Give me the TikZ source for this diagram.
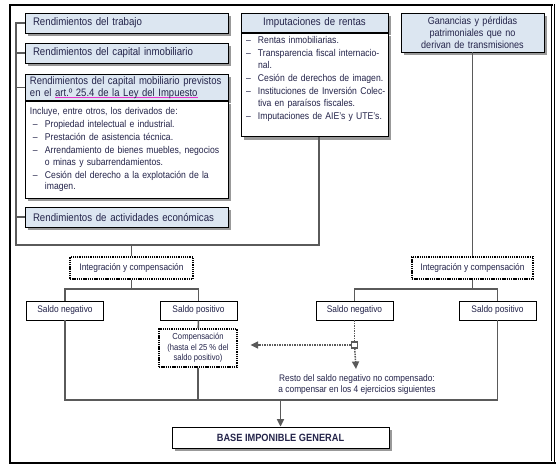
\documentclass[tikz,border=0pt]{standalone}
\usepackage{fontspec}
\setmainfont[FakeStretch=0.88]{Liberation Sans}
\usetikzlibrary{arrows.meta,positioning,shadows}
\definecolor{tinta}{HTML}{24244A}
\definecolor{cielo}{HTML}{DCE6F1}
\definecolor{linea}{HTML}{5A5A5A}
\definecolor{enlace}{HTML}{E633CC}
% lineas de las listas (sin corte automatico)
\newcommand{\guion}[2][0pt]{\mbox{\hspace*{#1}\makebox[12pt][l]{--}#2}}
\newcommand{\sigue}[2][0pt]{\mbox{\hspace*{\dimexpr12pt+#1\relax}#2}}
\newlength{\largo}
\newcommand{\subrayado}[1]{\settowidth{\largo}{#1}\mbox{\rlap{\textcolor{enlace}{\rule[-2.2pt]{\largo}{1pt}}}#1}}
\tikzstyle{sombra}=[drop shadow={shadow xshift=3pt,shadow yshift=-3pt,fill=black!50,opacity=.8}]
\tikzstyle{caja}=[draw=black,line width=0.8pt,text=tinta,inner xsep=5pt,inner ysep=2pt,font=\fontsize{9.8}{11.7}\selectfont]
\tikzstyle{rotulo}=[caja,fill=cielo,sombra,font=\fontsize{11}{12}\selectfont]
\tikzstyle{ancho}=[inner xsep=8pt,text width=187pt,align=left,minimum height=20pt]
\tikzstyle{saldo}=[caja,fill=white,minimum width=77pt,minimum height=19pt,font=\fontsize{9.5}{11}\selectfont]
\tikzstyle{puntos}=[draw=black,line width=1.2pt,dash pattern=on 1.3pt off 0.9pt,text=tinta,align=center,inner sep=2pt]
\tikzstyle{conector}=[draw=linea,line width=1.6pt]
\tikzstyle{punteado}=[draw=linea,line width=1.5pt,dash pattern=on 1.5pt off 1pt]

\begin{document}
\begin{tikzpicture}[x=1pt,y=-1pt,>={Triangle[width=7pt,length=7.5pt]}]
  \useasboundingbox (0,0) rectangle (558,475);
  % marco
  \draw[line width=2.4pt] (553,5) -- (10,5) -- (10,463) -- (555.5,463);
  \draw[line width=0.9pt] (551,5) -- (551,461) (554.3,4) -- (554.3,463);

  % rendimientos
  \node[rotulo,ancho] (trabajo) at (126.5,23) {Rendimientos del trabajo};
  \node[rotulo,ancho] (inmob) at (126.5,53) {Rendimientos del capital inmobiliario};
  \node[rotulo,text width=193pt,align=left,minimum height=26pt,anchor=north,font=\fontsize{10.8}{12}\selectfont] (mobhead) at (126.5,74)
    {\mbox{Rendimientos del capital mobiliario previstos}\\\mbox{en el \subrayado{art.º 25.4 de la Ley del Impuesto}}};
  \node[caja,fill=white,sombra,text width=193pt,align=left,minimum height=97pt,below=0pt of mobhead] (mobbody)
    {Incluye, entre otros, los derivados de:\\[1.2pt]
     \guion[3pt]{Propiedad intelectual e industrial.}\\[1.2pt]
     \guion[3pt]{Prestación de asistencia técnica.}\\[1.2pt]
     \guion[3pt]{Arrendamiento de bienes muebles, negocios}\\
     \sigue[3pt]{o minas y subarrendamientos.}\\[1.2pt]
     \guion[3pt]{Cesión del derecho a la explotación de la}\\
     \sigue[3pt]{imagen.}};
  \node[rotulo,ancho] (activ) at (126.5,217) {Rendimientos de actividades económicas};

  % imputaciones y ganancias
  \node[rotulo,text width=137pt,align=center,minimum height=19pt,anchor=north] (imputhead) at (314.5,13)
    {Imputaciones de rentas};
  \node[caja,fill=white,sombra,text width=137pt,align=left,inner ysep=3pt,below=0pt of imputhead] (imputbody)
    {\guion{Rentas inmobiliarias.}\\[1.5pt]
     \guion{Transparencia fiscal internacio-}\\
     \sigue{nal.}\\[1.5pt]
     \guion{Cesión de derechos de imagen.}\\[1.5pt]
     \guion{Instituciones de Inversión Colec-}\\
     \sigue{tiva en paraísos fiscales.}\\[1.5pt]
     \guion{Imputaciones de AIE's y UTE's.}\par\vspace{12pt}};
  \node[rotulo,text width=133pt,align=center,minimum height=39pt,font=\fontsize{10.3}{12}\selectfont] (ganan) at (472.5,32.5)
    {Ganancias y pérdidas\\patrimoniales que no\\derivan de transmisiones};

  \coordinate (esquina) at (16,245);
  \coordinate (bajada) at (319,245);
  \draw[conector] (trabajo.west) -- (trabajo.west -| esquina) -- (esquina) -- (bajada) -- (bajada |- imputbody.south);
  \draw[conector] (inmob.west) -- (inmob.west -| esquina);
  \draw[conector] (mobhead.west) -- (mobhead.west -| esquina);
  \draw[conector] (activ.west) -- (activ.west -| esquina);

  % integracion
  \node[puntos,minimum width=123pt,minimum height=22pt,font=\fontsize{9.5}{11}\selectfont] (integA) at (131.5,268) {Integración y compensación};
  \node[puntos,minimum width=121pt,minimum height=22pt,font=\fontsize{9.5}{11}\selectfont] (integB) at (472.5,268) {Integración y compensación};
  \draw[conector] (integA) -- (integA |- esquina);
  \draw[conector] (ganan) -- (integB);

  \node[saldo] (negA) at (65,310.5) {Saldo negativo};
  \node[saldo] (posA) at (198.5,310.5) {Saldo positivo};
  \node[saldo] (negB) at (354.5,310.5) {Saldo negativo};
  \node[saldo] (posB) at (497.5,310.5) {Saldo positivo};
  \coordinate (ramaA) at (131.5,289);
  \coordinate (ramaB) at (472.5,289);
  \draw[conector] (integA) -- (ramaA) (negA) |- (ramaA) -| (posA);
  \draw[conector] (integB) -- (ramaB) (negB) |- (ramaB) -| (posB);

  \node[puntos,minimum width=78pt,minimum height=38pt,font=\fontsize{8.7}{10.5}\selectfont] (comp) at (198,348)
    {Compensación\\(hasta el 25 \% del\\saldo positivo)};
  \draw[conector] (posA) -- (comp);

  % resto
  \node[draw=linea,fill=white,line width=1.3pt,minimum size=6pt,inner sep=0pt] (nudo) at (354.5,345) {};
  \node[text=tinta,align=center,anchor=north,font=\fontsize{9.5}{11.5}\selectfont] (resto) at (357,371)
    {Resto del saldo negativo no compensado:\\a compensar en los 4 ejercicios siguientes};
  \draw[punteado] (negB) -- (nudo);
  \draw[punteado,->,shorten >=13pt] (nudo.west) -- (nudo.west -| comp.east);
  \draw[punteado,->,shorten >=2pt] (nudo) -- (resto);

  % base
  \node[rotulo,fill=white,minimum width=217pt,minimum height=21pt,font=\bfseries\fontsize{10.5}{12}\selectfont] (base) at (280.5,437.5)
    {BASE IMPONIBLE GENERAL};
  \coordinate (fondo) at (280.5,400);
  \draw[conector] (negA) |- (fondo) -| (posB);
  \draw[conector] (comp) -- (comp |- fondo);
  \draw[conector,->] (fondo) -- (base);
\end{tikzpicture}
\end{document}
